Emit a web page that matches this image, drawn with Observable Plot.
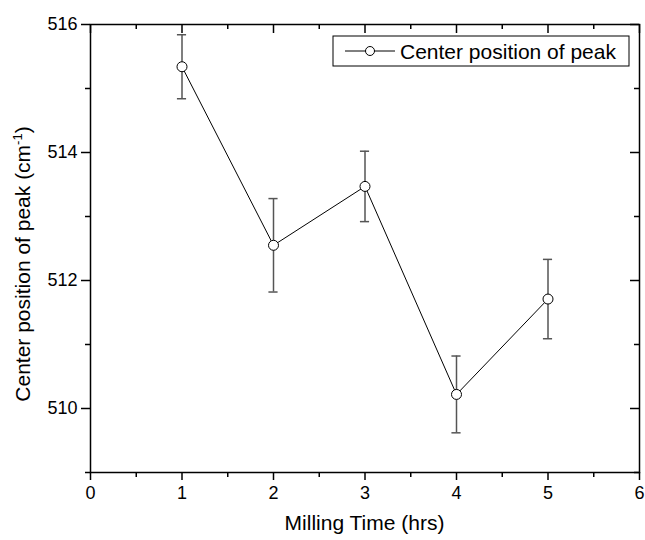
<!DOCTYPE html>
<html><head><meta charset="utf-8">
<script src="https://cdn.jsdelivr.net/npm/d3@7"></script>
<script src="https://cdn.jsdelivr.net/npm/@observablehq/plot@0.6"></script>
<style>
body{margin:0;background:#fff}
svg{font-family:"Liberation Sans",Arial,sans-serif}
</style>
</head><body><div id="chart"></div>
<script>
const millingTime = [1, 2, 3, 4, 5];
const centerPos = [515.34, 512.55, 513.47, 510.22, 511.71];
const errorBar = [0.5, 0.73, 0.55, 0.6, 0.62];
const xMajor = [0, 1, 2, 3, 4, 5, 6];
const xMinor = [0.5, 1.5, 2.5, 3.5, 4.5, 5.5];
const yMajor = [510, 512, 514, 516];
const yMinor = [509, 511, 513, 515];
const seriesName = "Center position of peak";
const xTitle = "Milling Time (hrs)";
const yTitle = "Center position of peak (cm";
const yTitleSup = "-1";

const data = millingTime.map((m, i) => ({m, c: centerPos[i], lo: centerPos[i] - errorBar[i], hi: centerPos[i] + errorBar[i]}));

const W = 645, H = 540, mL = 90, mR = 6, mT = 24, mB = 68;
const PW = W - mL - mR, PH = H - mT - mB;
const blank = () => "";

const chart = Plot.plot({
  width: W, height: H, marginLeft: mL, marginRight: mR, marginTop: mT, marginBottom: mB,
  style: {fontFamily: '"Liberation Sans",Arial,sans-serif', fontSize: "18px", color: "black", background: "white", overflow: "visible"},
  x: {domain: [0, 6]},
  y: {domain: [509, 516]},
  marks: [
    Plot.frame({stroke: "black", strokeWidth: 1.5}),
    // bottom (outward)
    Plot.axisX({anchor: "bottom", ticks: xMajor, tickSize: 8, tickPadding: 6, tickFormat: d => String(d), label: null, strokeWidth: 1.5, fontSize: 18}),
    Plot.axisX({anchor: "bottom", ticks: xMinor, tickSize: 5, tickFormat: blank, label: null, strokeWidth: 1.5}),
    // top (inward)
    Plot.ruleX(xMajor, {x: d => d, y1: 516, y2: 516 - 9 / 64, stroke: "black", strokeWidth: 1.5}),
    Plot.ruleX(xMinor, {x: d => d, y1: 516, y2: 516 - 5 / 64, stroke: "black", strokeWidth: 1.5}),
    // left (outward)
    Plot.axisY({anchor: "left", ticks: yMajor, tickSize: 9, tickPadding: 4, tickFormat: d => String(d), label: null, strokeWidth: 1.5, fontSize: 18}),
    Plot.axisY({anchor: "left", ticks: yMinor, tickSize: 5, tickFormat: blank, label: null, strokeWidth: 1.5}),
    // right (inward)
    Plot.tickY(yMajor, {y: d => d, insetLeft: PW - 9, stroke: "black", strokeWidth: 1.5}),
    Plot.tickY(yMinor, {y: d => d, insetLeft: PW - 5, stroke: "black", strokeWidth: 1.5}),
    // error bars
    Plot.ruleX(data, {x: "m", y1: "lo", y2: "hi", stroke: "#555", strokeWidth: 1.5}),
    Plot.ruleY(data, {y: "hi", x1: d => d.m - 0.05, x2: d => d.m + 0.05, stroke: "#555", strokeWidth: 1.5}),
    Plot.ruleY(data, {y: "lo", x1: d => d.m - 0.05, x2: d => d.m + 0.05, stroke: "#555", strokeWidth: 1.5}),
    Plot.line(data, {x: "m", y: "c", stroke: "black", strokeWidth: 1}),
    Plot.dot(data, {x: "m", y: "c", r: 5, fill: "white", stroke: "black", strokeWidth: 1})
  ]
});

const svg = d3.select(chart);
const yMid = (mT + (H - mB)) / 2;
// y title
const yt = svg.append("text")
  .attr("transform", `translate(30,${yMid + 16}) rotate(-90)`)
  .attr("text-anchor", "middle")
  .attr("font-size", 21)
  .attr("fill", "black");
yt.append("tspan").text(yTitle);
yt.append("tspan").attr("font-size", 13).attr("dy", -8).text(yTitleSup);
yt.append("tspan").attr("dy", 8).text(")");
// x title
svg.append("text")
  .attr("x", (mL + W - mR) / 2).attr("y", 530)
  .attr("text-anchor", "middle").attr("font-size", 21).attr("fill", "black")
  .text(xTitle);
// legend
const lg = svg.append("g");
lg.append("rect").attr("x", 333).attr("y", 36).attr("width", 296).attr("height", 30)
  .attr("fill", "white").attr("stroke", "black").attr("stroke-width", 1);
lg.append("line").attr("x1", 345).attr("x2", 395).attr("y1", 51).attr("y2", 51).attr("stroke", "black").attr("stroke-width", 1);
lg.append("circle").attr("cx", 370).attr("cy", 51).attr("r", 4.5).attr("fill", "white").attr("stroke", "black").attr("stroke-width", 1);
lg.append("text").attr("x", 400).attr("y", 58.5).attr("text-anchor", "start").attr("font-size", 21).attr("fill", "black").text(seriesName);

document.getElementById("chart").appendChild(chart);
</script>
</body></html>
